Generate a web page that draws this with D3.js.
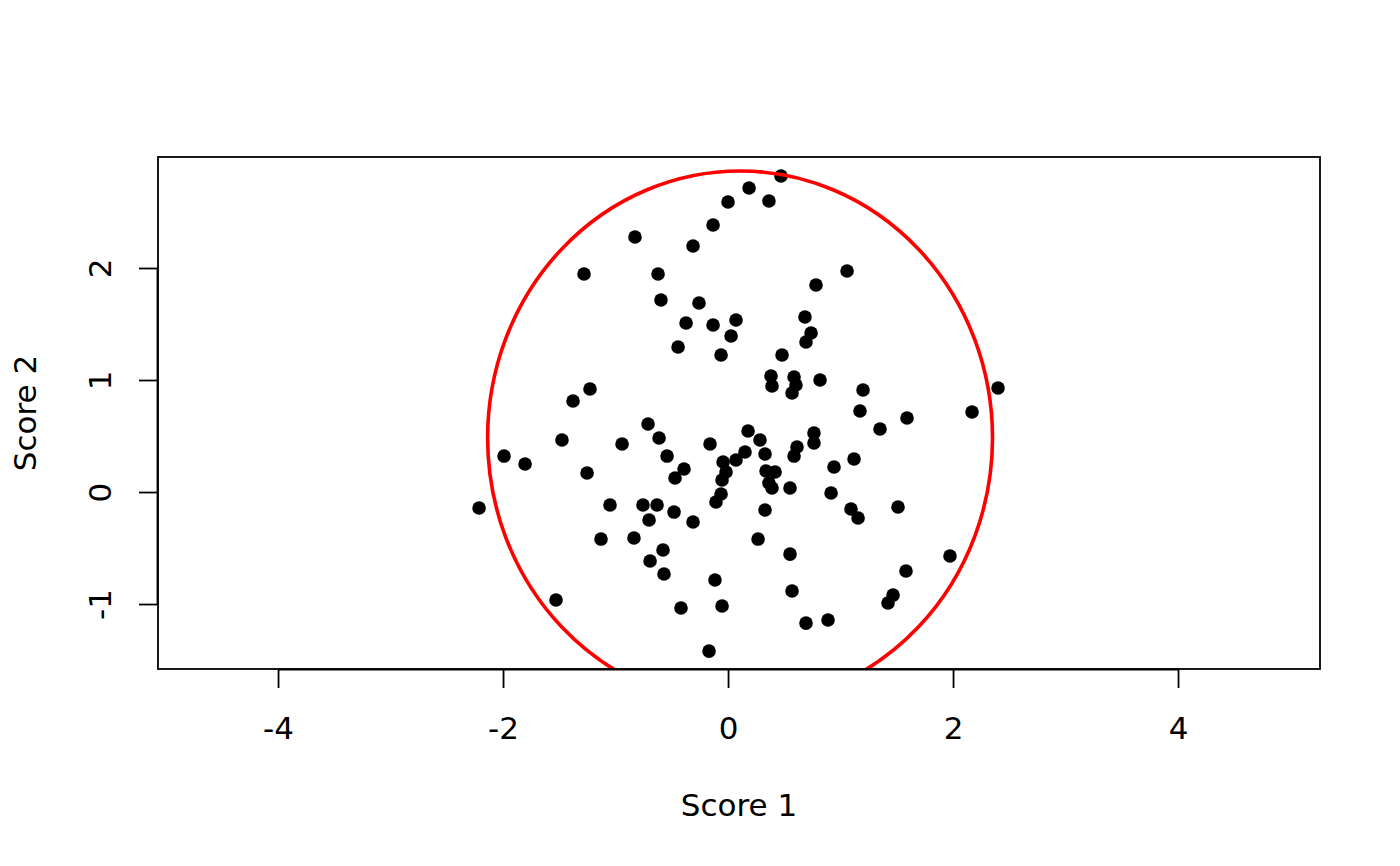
<!DOCTYPE html>
<html>
<head>
<meta charset="utf-8">
<script src="https://cdn.jsdelivr.net/npm/d3@7/dist/d3.min.js"></script>
<style>
  html, body { margin: 0; padding: 0; background: #fff; }
  svg { display: block; }
  text { font-family: "DejaVu Sans", sans-serif; fill: #000; }
</style>
</head>
<body>
<svg id="chart" width="1400" height="866"></svg>
<script>
// ---- data ----
const score1 = [
  -2.213, -1.991, -1.804, -1.529, -1.476, -1.378, -1.227, -1.253, -1.280, -1.129,
  -1.049, -0.942, -0.827, -0.836, -0.756, -0.711, -0.702, -0.693, -0.622, -0.631,
  -0.613, -0.596, -0.578, -0.569, -0.542, -0.471, -0.480, -0.444, -0.418, -0.391,
  -0.373, -0.311, -0.311, -0.258, -0.169, -0.160, -0.133, -0.133, -0.116, -0.107,
  -0.062, -0.062, -0.053, -0.053, -0.044, -0.018, 0.000, 0.027, 0.071, 0.071,
  0.151, 0.178, 0.187, 0.267, 0.284, 0.329, 0.329, 0.338, 0.364, 0.364,
  0.382, 0.391, 0.391, 0.418, 0.471, 0.480, 0.551, 0.551, 0.569, 0.569,
  0.587, 0.587, 0.604, 0.613, 0.684, 0.693, 0.693, 0.738, 0.764, 0.764,
  0.782, 0.818, 0.889, 0.916, 0.942, 1.058, 1.093, 1.120, 1.156, 1.173,
  1.200, 1.351, 1.422, 1.467, 1.511, 1.582, 1.591, 1.973, 2.169, 2.400
];
const score2 = [
  -0.143, 0.321, 0.250, -0.964, 0.464, 0.813, 0.920, 0.170, 1.946, -0.420,
  -0.116, 0.429, 2.277, -0.411, -0.116, 0.607, -0.250, -0.616, 1.946, -0.116,
  0.482, 1.714, -0.518, -0.732, 0.321, 0.125, -0.179, 1.295, -1.036, 0.205,
  1.509, 2.196, -0.268, 1.688, -1.420, 0.429, 1.491, 2.384, -0.786, -0.089,
  1.223, -0.018, -1.018, 0.107, 0.268, 0.179, 2.589, 1.393, 1.536, 0.286,
  0.357, 0.545, 2.714, -0.420, 0.464, -0.161, 0.339, 0.188, 2.598, 0.080,
  1.036, 0.036, 0.946, 0.179, 2.821, 1.223, 0.036, -0.554, 0.884, -0.884,
  1.027, 0.321, 0.955, 0.402, 1.563, -1.170, 1.339, 1.420, 0.438, 0.527,
  1.848, 1.000, -1.143, -0.009, 0.223, 1.973, -0.152, 0.295, -0.232, 0.723,
  0.911, 0.563, -0.991, -0.920, -0.134, -0.705, 0.661, -0.571, 0.714, 0.929
];
const xTicks = [-4, -2, 0, 2, 4];
const yTicks = [-1, 0, 1, 2];
const xDomain = [-5.067, 5.262];
const yDomain = [-1.580, 2.991];
const ellipseCenter = [0.107, 0.482];
const ellipseRadii = [2.244, 2.384];
const xTitle = "Score 1";
const yTitle = "Score 2";

// ---- layout ----
const svg = d3.select("#chart");
const pL = 158, pR = 1320, pT = 157, pB = 669;
const FS = "31px";
const x = d3.scaleLinear().domain(xDomain).range([pL, pR]);
const y = d3.scaleLinear().domain(yDomain).range([pB, pT]);

svg.append("defs").append("clipPath").attr("id", "plotclip")
  .append("rect").attr("x", pL).attr("y", pT)
  .attr("width", pR - pL).attr("height", pB - pT);

// points
svg.append("g").selectAll("circle")
  .data(score1.map((v, i) => [v, score2[i]]))
  .join("circle")
  .attr("cx", d => x(d[0]))
  .attr("cy", d => y(d[1]))
  .attr("r", 6.8)
  .attr("fill", "#000");

// ellipse
svg.append("ellipse")
  .attr("clip-path", "url(#plotclip)")
  .attr("cx", x(ellipseCenter[0]))
  .attr("cy", y(ellipseCenter[1]))
  .attr("rx", x(ellipseCenter[0] + ellipseRadii[0]) - x(ellipseCenter[0]))
  .attr("ry", y(ellipseCenter[1]) - y(ellipseCenter[1] + ellipseRadii[1]))
  .attr("fill", "none")
  .attr("stroke", "#ff0000")
  .attr("stroke-width", 3.6);

// box
svg.append("rect")
  .attr("x", pL).attr("y", pT)
  .attr("width", pR - pL).attr("height", pB - pT)
  .attr("fill", "none").attr("stroke", "#000").attr("stroke-width", 1.8);

// x axis
const xAxis = d3.axisBottom(x).tickValues(xTicks).tickSize(19).tickPadding(0)
  .tickFormat(d => d < 0 ? "-" + Math.abs(d) : String(d));
const gx = svg.append("g").attr("transform", `translate(0,${pB})`).call(xAxis);
gx.select(".domain").attr("d", `M${x(xTicks[0])},0.5H${x(xTicks[xTicks.length-1])}`)
  .attr("stroke", "#000").attr("stroke-width", 1.8);
gx.selectAll(".tick line").attr("stroke", "#000").attr("stroke-width", 1.8);
gx.selectAll(".tick text").attr("y", 59).attr("dy", "0.35em")
  .style("font-size", FS).style("font-family", "DejaVu Sans");

// y axis
const yAxis = d3.axisLeft(y).tickValues(yTicks).tickSize(19).tickPadding(0)
  .tickFormat(d => d < 0 ? "-" + Math.abs(d) : String(d));
const gy = svg.append("g").attr("transform", `translate(${pL},0)`).call(yAxis);
gy.select(".domain").attr("d", `M-0.5,${y(yTicks[0])}V${y(yTicks[yTicks.length-1])}`)
  .attr("stroke", "#000").attr("stroke-width", 1.8);
gy.selectAll(".tick line").attr("stroke", "#000").attr("stroke-width", 1.8);
gy.selectAll(".tick text")
  .attr("x", null)
  .attr("text-anchor", "middle")
  .attr("transform", "translate(-58,0) rotate(-90)")
  .attr("dy", "0.35em")
  .style("font-size", FS).style("font-family", "DejaVu Sans");

// titles
svg.append("text")
  .attr("x", (pL + pR) / 2).attr("y", 805).attr("dy", "0.35em")
  .attr("text-anchor", "middle").style("font-size", FS)
  .text(xTitle);
svg.append("text")
  .attr("transform", `translate(25,${(pT + pB) / 2}) rotate(-90)`)
  .attr("dy", "0.35em")
  .attr("text-anchor", "middle").style("font-size", FS)
  .text(yTitle);
</script>
</body>
</html>
